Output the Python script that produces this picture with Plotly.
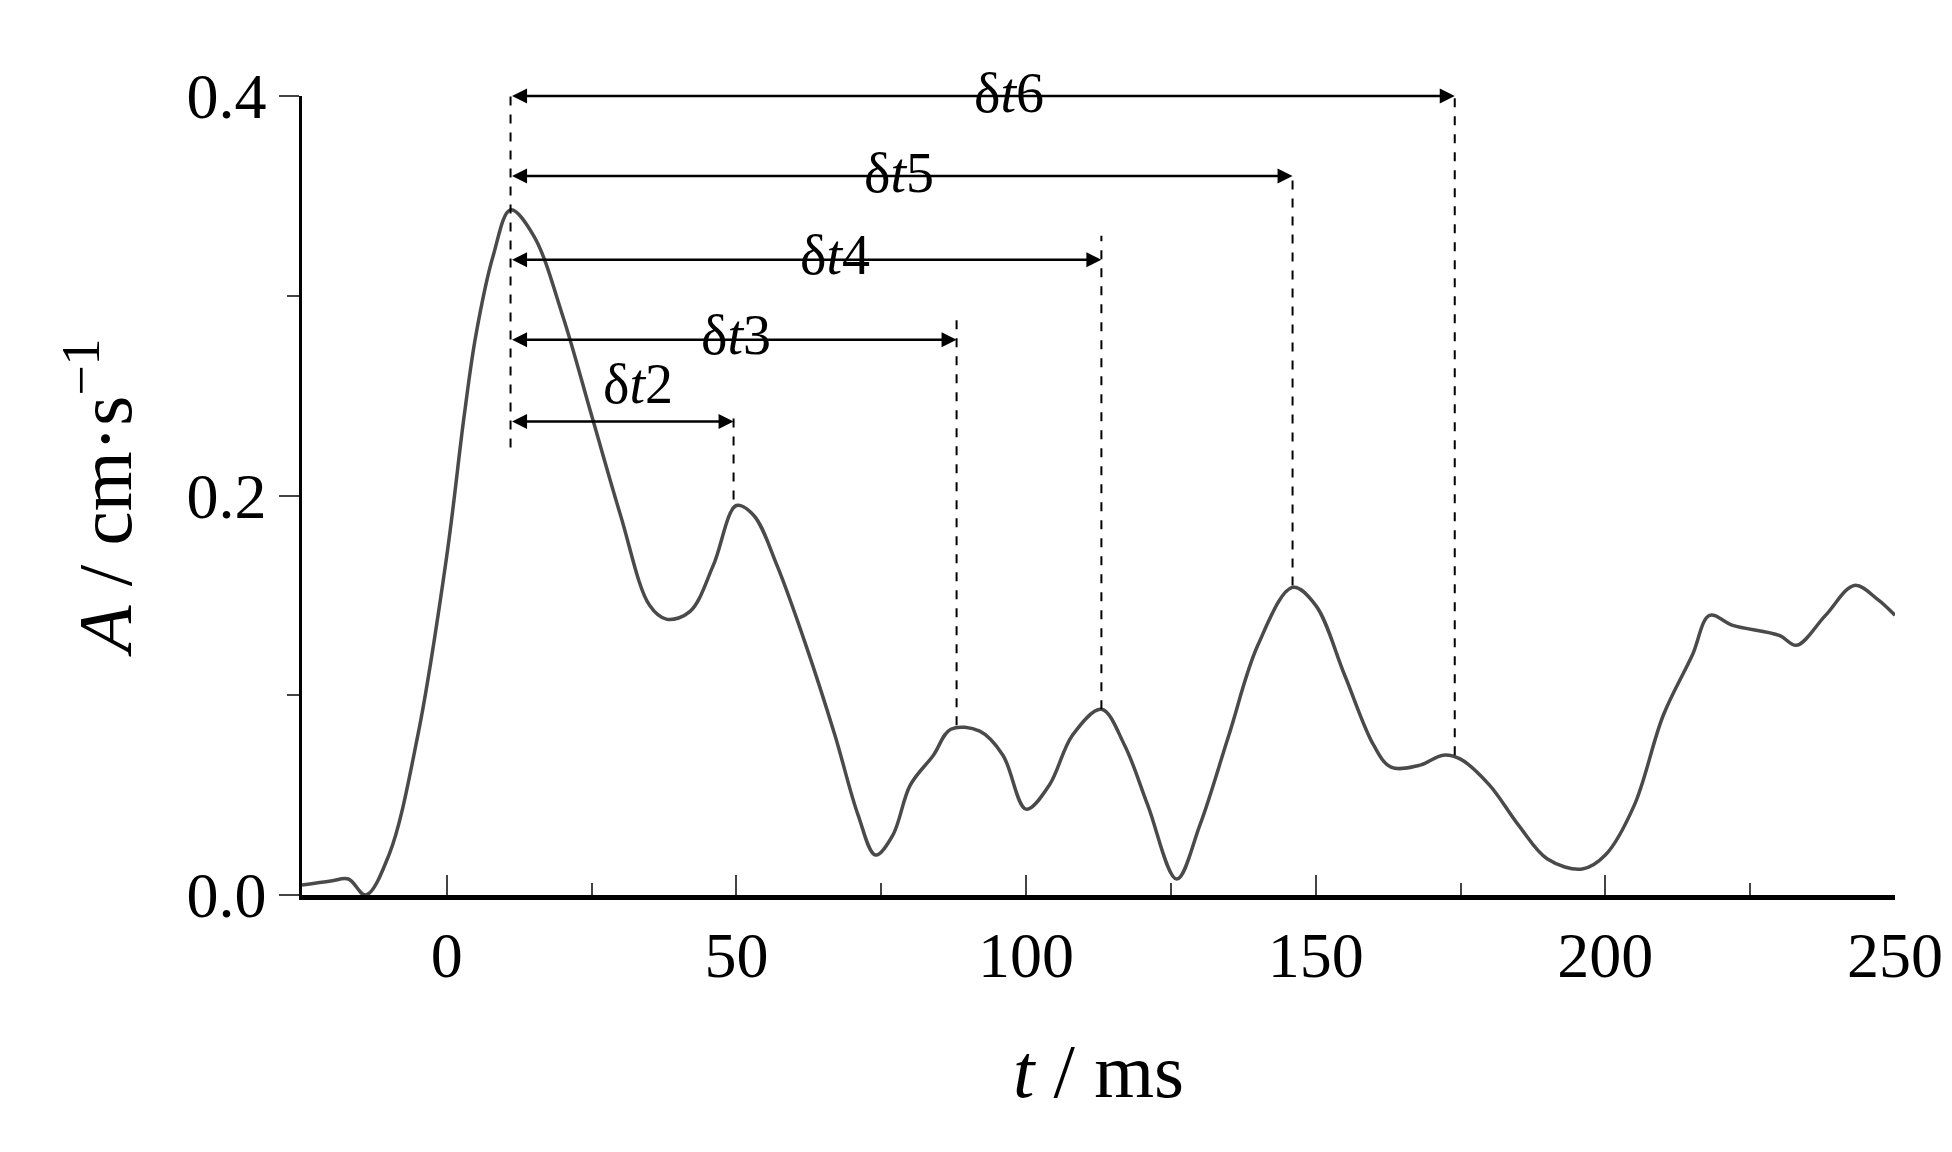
import plotly.graph_objects as go

# signal
t = [-25, -20, -17, -14, -10, -5, 0, 3, 5, 8, 11, 15, 20, 25, 30, 35, 38, 42, 46, 50,
     53, 57, 62, 67, 71, 74, 77, 80, 84, 87, 92, 96, 100, 104, 108, 113, 117, 121, 126,
     130, 135, 140, 146, 150, 155, 160, 163, 168, 172, 175, 180, 185, 190, 196, 200,
     205, 210, 215, 218, 222, 230, 233, 238, 243, 247, 250]
A = [0.005, 0.007, 0.008, 0.0, 0.02, 0.08, 0.17, 0.24, 0.28, 0.32, 0.343, 0.33, 0.29,
     0.24, 0.19, 0.145, 0.138, 0.142, 0.165, 0.195, 0.19, 0.165, 0.125, 0.08, 0.04,
     0.02, 0.03, 0.055, 0.07, 0.083, 0.082, 0.07, 0.043, 0.055, 0.08, 0.093, 0.075,
     0.045, 0.008, 0.035, 0.08, 0.125, 0.154, 0.145, 0.11, 0.075, 0.064, 0.065, 0.07,
     0.068, 0.055, 0.035, 0.018, 0.013, 0.02, 0.045, 0.09, 0.12, 0.14, 0.135, 0.13,
     0.125, 0.14, 0.155, 0.148, 0.14]

# intervals delta t2..t6
t0 = 11
t_end = [49.5, 88, 113, 146, 174]
dash_bot = [0.198, 0.085, 0.093, 0.155, 0.07]
dash_top = [0.24, 0.29, 0.33, 0.36, 0.405]
arrow_y = [0.237, 0.278, 0.318, 0.36, 0.40]
labels = ["δ<i>t</i>2", "δ<i>t</i>3", "δ<i>t</i>4", "δ<i>t</i>5", "δ<i>t</i>6"]
label_x = [33, 50, 67, 78, 97]
label_y = [0.256, 0.297, 0.337, 0.378, 0.418]

fig = go.Figure()
fig.add_trace(go.Scatter(x=t, y=A, mode="lines", line=dict(color="#4a4a4a", width=3.5, shape="spline"),
                         showlegend=False))

dash = dict(color="black", width=2, dash="dash")
fig.add_shape(type="line", x0=t0, x1=t0, y0=0.224, y1=0.405, line=dash)
for i in range(len(t_end)):
    fig.add_shape(type="line", x0=t_end[i], x1=t_end[i], y0=dash_bot[i], y1=dash_top[i], line=dash)
    fig.add_annotation(x=t_end[i], y=arrow_y[i], ax=t0, ay=arrow_y[i], xref="x", yref="y",
                       axref="x", ayref="y", text="", showarrow=True, arrowhead=2,
                       arrowside="end+start", arrowsize=1.2, arrowwidth=2.5, arrowcolor="black")
    # paper y so the top label is not hidden above the axis range
    fig.add_annotation(x=label_x[i], y=label_y[i] / 0.4, xref="x", yref="paper",
                       text=labels[i], showarrow=False,
                       font=dict(size=56, color="black", family="Liberation Serif"))

fig.update_layout(
    width=1952, height=1152,
    plot_bgcolor="white", paper_bgcolor="white",
    margin=dict(l=294, r=65, t=88, b=265),
    font=dict(family="Liberation Serif", size=64, color="black"),
    xaxis=dict(range=[-25, 250], tickvals=[0, 50, 100, 150, 200, 250], ticks="inside",
               ticklen=20, tickwidth=2, showline=True, linewidth=5, linecolor="black",
               showgrid=False, zeroline=False,
               minor=dict(tickvals=[25, 75, 125, 175, 225], ticks="inside", ticklen=12, tickwidth=2),
               title=dict(text="<i>t</i> / ms", standoff=55)),
    yaxis=dict(range=[0, 0.4], tickvals=[0, 0.2, 0.4], tickformat=".1f", ticks="outside",
               ticklen=20, tickwidth=2, showline=True, linewidth=2.5, linecolor="black",
               showgrid=False, zeroline=False,
               minor=dict(tickvals=[0.1, 0.3], ticks="outside", ticklen=12, tickwidth=2),
               title=dict(text="<i>A</i> / cm·s<sup>−1</sup>", standoff=30)),
)

fig.write_html("out.html")
